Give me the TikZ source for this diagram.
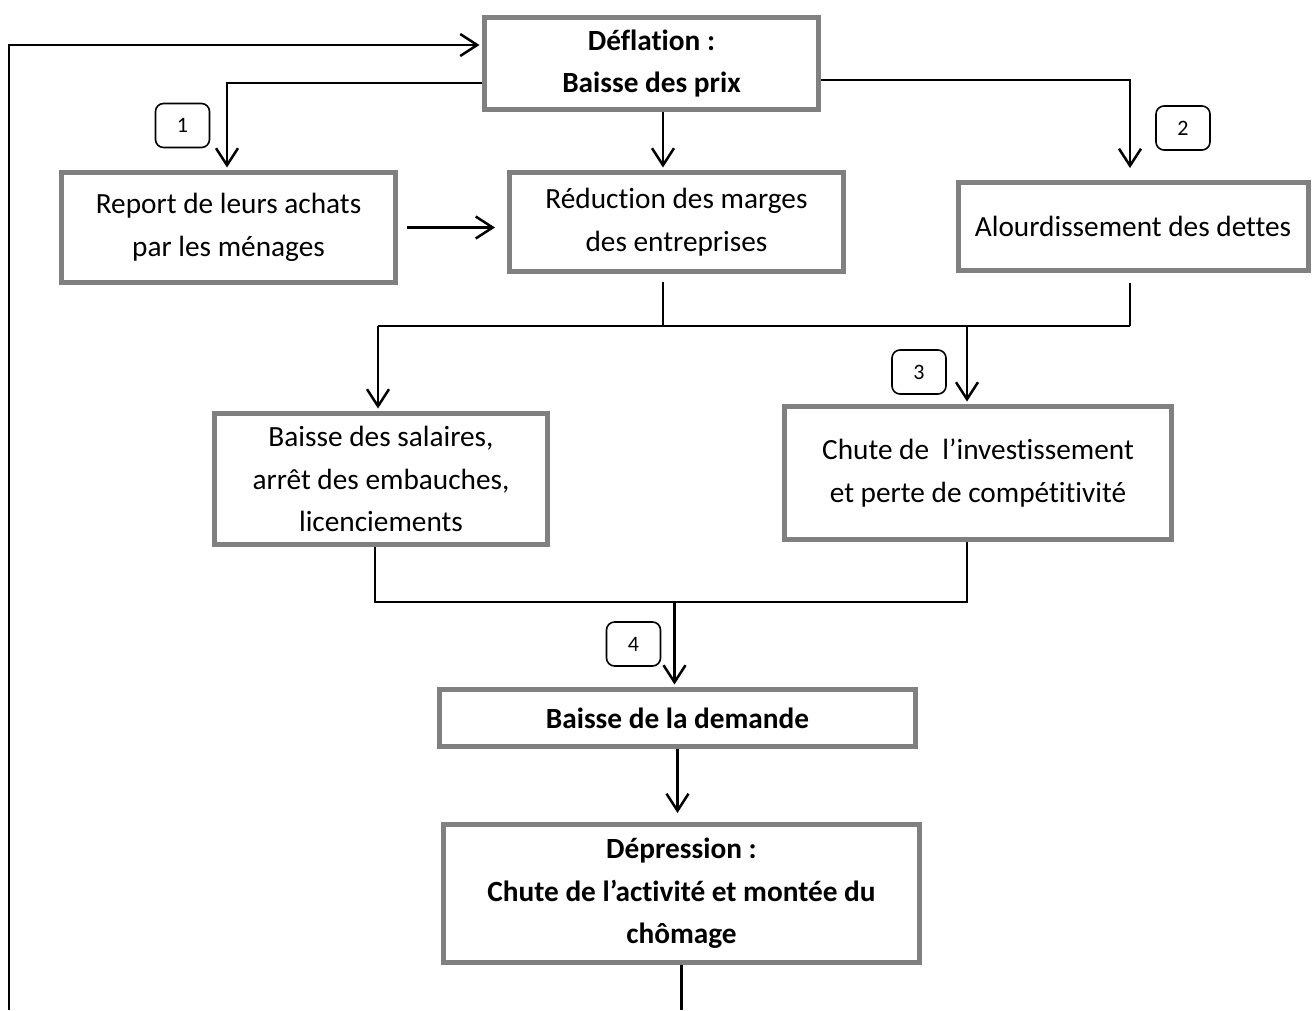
\documentclass[tikz,border=0pt]{standalone}
\usepackage{fontspec}
\setmainfont{Carlito}[Ligatures=NoCommon]
\usetikzlibrary{arrows.meta,calc}
\definecolor{boxgray}{RGB}{128,128,128}
\begin{document}
\begin{tikzpicture}[x=1pt,y=-1pt,
  box/.style={draw=boxgray,line width=5pt,fill=white,inner sep=0pt,align=center,font=\fontsize{29.3}{42.5}\selectfont},
  bbox/.style={box,font=\fontsize{29.3}{42.5}\selectfont\bfseries},
  num/.style={draw=black,line width=1.6pt,rounded corners=8pt,inner sep=0pt,minimum width=54pt,minimum height=44pt,font=\fontsize{22}{26}\selectfont},
  conn/.style={line width=2.5pt,black},
  arr/.style={conn,-{Straight Barb[length=17pt,width=22pt]},shorten >=2.5pt}]
\useasboundingbox (0,0) rectangle (1312,1010);
% boxes
\node[bbox,minimum width=334pt,minimum height=92pt] (defl) at (651.5,63.5) {Déflation :\\Baisse des prix};
\node[box,minimum width=334pt,minimum height=110pt] (report) at (228.5,227.5) {Report de leurs achats\\par les ménages};
\node[box,minimum width=334pt,minimum height=99pt] (reduc) at (676.5,222) {Réduction des marges\\des entreprises};
\node[box,minimum width=350pt,minimum height=88pt] (alour) at (1133,226.5) {Alourdissement des dettes};
\node[box,minimum width=333pt,minimum height=131pt] (salaires) at (381,479) {Baisse des salaires,\\arrêt des embauches,\\licenciements};
\node[box,minimum width=387pt,minimum height=133pt] (chute) at (978,473) {Chute de~~l’investissement\\et perte de compétitivité};
\node[bbox,minimum width=476pt,minimum height=57pt] (demande) at (677.5,718) {Baisse de la demande};
\node[bbox,minimum width=476pt,minimum height=138pt] (depr) at (681.5,893.5) {Dépression :\\Chute de l’activité et montée du\\chômage};
% number tags
\node[num] (n1) at (182.5,125.5) {1};
\node[num] (n2) at (1183,128) {2};
\node[num] (n3) at (919,372) {3};
\node[num] (n4) at (633.5,644) {4};
% feedback loop
\coordinate (loopB) at (9,1010);
\coordinate (bot) at (0,1010);
\draw[arr] (loopB) |- ($(defl.west)+(0,-18.5)$);
\draw[conn] (depr.south) -- (depr.south |- bot);
% from deflation
\draw[arr] ($(defl.west)+(0,19.5)$) -| ($(report.north)+(-1.5,0)$);
\draw[arr] ($(defl.south)+(11.5,0)$) -- ($(reduc.north)+(-13.5,0)$);
\draw[arr,shorten >=12pt] ($(defl.east)+(0,16.5)$) -| ($(alour.north)+(-3,0)$);
\draw[arr,shorten <=9pt,shorten >=12pt] (report.east) -- (report.east -| reduc.west);
% bus A
\coordinate (busA) at (0,326);
\coordinate (rs) at ($(reduc.south)+(-13.5,8)$);
\coordinate (as) at ($(alour.south)+(-3,10)$);
\coordinate (sn) at ($(salaires.north)+(-3,0)$);
\coordinate (cn) at ($(chute.north)+(-11,0)$);
\draw[conn] (rs) -- (rs |- busA);
\draw[conn] (as) -- (as |- busA);
\draw[conn] (sn |- busA) -- (as |- busA);
\draw[arr] (sn |- busA) -- (sn);
\draw[arr] (cn |- busA) -- (cn);
% bus B
\coordinate (busB) at (0,602);
\coordinate (ss) at ($(salaires.south)+(-6,0)$);
\coordinate (cs) at ($(chute.south)+(-11,0)$);
\coordinate (dn) at ($(demande.north)+(-3,0)$);
\draw[conn] (ss) -- (ss |- busB) -- (cs |- busB) -- (cs);
\draw[arr] (dn |- busB) -- (dn);
\draw[arr,shorten >=9pt] (demande.south) -- (demande.south |- depr.north);
\end{tikzpicture}
\end{document}
